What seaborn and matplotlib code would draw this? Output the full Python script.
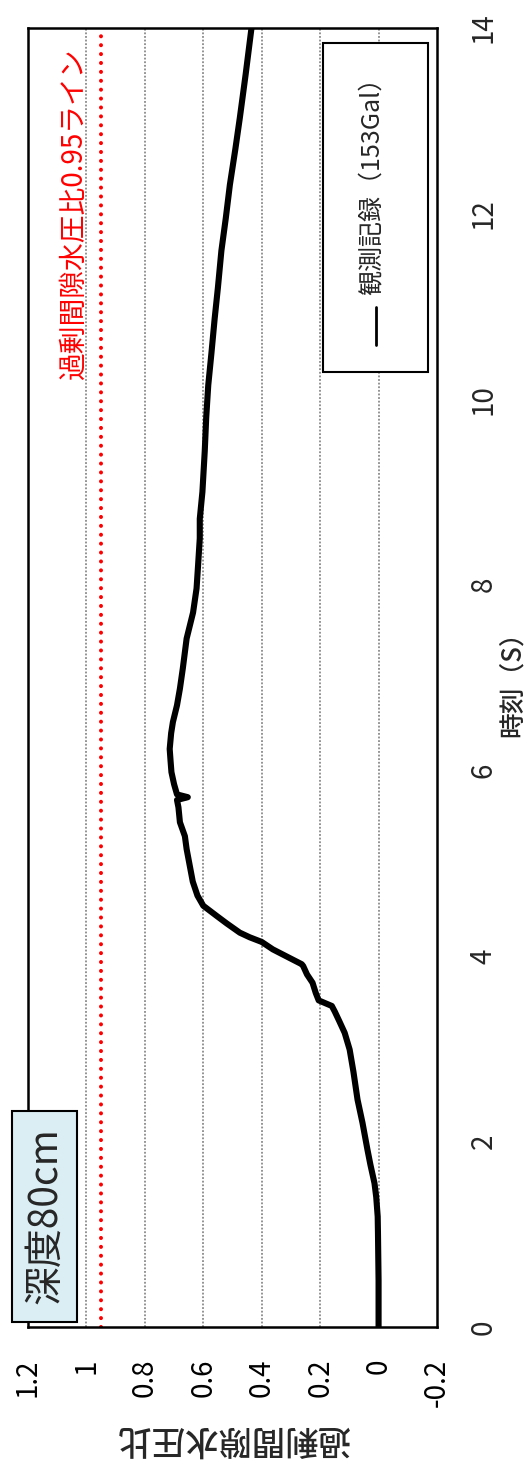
import matplotlib
matplotlib.use("Agg")
import matplotlib.pyplot as plt
import seaborn as sns
import pandas as pd
from matplotlib.patches import Rectangle
from matplotlib.lines import Line2D

# ---- data ----
time_s = [0.0, 0.5, 1.0, 1.19, 1.4, 1.55, 1.75, 1.91, 2.2, 2.45, 2.75, 2.99, 3.17,
          3.3, 3.4, 3.46, 3.52, 3.6, 3.71, 3.8, 3.89, 3.91, 3.96, 4.07, 4.15, 4.2,
          4.25, 4.35, 4.43, 4.54, 4.65, 4.8, 5.0, 5.15, 5.29, 5.44, 5.6, 5.68, 5.71,
          5.74, 5.85, 5.98, 6.1, 6.23, 6.4, 6.52, 6.7, 6.88, 7.1, 7.42, 7.7, 7.96,
          8.2, 8.5, 8.71, 9.0, 9.44, 9.8, 10.15, 10.5, 10.87, 11.2, 11.6, 11.95,
          12.31, 12.7, 13.03, 13.5, 14.0]
pressure_ratio = [0.0, 0.0, 0.002, 0.003, 0.008, 0.014, 0.028, 0.038, 0.055, 0.072, 0.086,
                  0.099, 0.116, 0.135, 0.15, 0.16, 0.205, 0.215, 0.226, 0.245, 0.258, 0.263,
                  0.294, 0.362, 0.40, 0.441, 0.475, 0.52, 0.554, 0.60, 0.62, 0.636, 0.648,
                  0.657, 0.663, 0.68, 0.685, 0.69, 0.653, 0.69, 0.70, 0.709, 0.712, 0.715,
                  0.71, 0.704, 0.69, 0.68, 0.67, 0.657, 0.635, 0.623, 0.618, 0.612, 0.612,
                  0.603, 0.595, 0.59, 0.583, 0.572, 0.561, 0.55, 0.538, 0.523, 0.509, 0.49,
                  0.475, 0.455, 0.435]
value_ticks = [1.2, 1.0, 0.8, 0.6, 0.4, 0.2, 0.0, -0.2]
value_tick_labels = ["1.2", "1", "0.8", "0.6", "0.4", "0.2", "0", "-0.2"]
grid_values = [1.0, 0.8, 0.6, 0.4, 0.2, 0.0]
time_ticks = [0, 2, 4, 6, 8, 10, 12, 14]
time_tick_labels = ["0", "2", "4", "6", "8", "10", "12", "14"]
threshold = 0.95

value_label = "過剰間隙水圧比"
time_label = "時刻（S）"
threshold_label = "過剰間隙水圧比0.95ライン"
series_label = "観測記録（153Gal）"
depth_label = "深度80cm"

sns.set_theme(style="white")
plt.rcParams["font.family"] = ["Noto Sans CJK JP", "DejaVu Sans"]

W, H = 527, 1461
fig = plt.figure(figsize=(W / 100, H / 100), dpi=100)
fig.patch.set_facecolor("white")

# axes in pixel geometry (rotated chart: value horizontal, time vertical)
L, R, T, B = 28, 437, 28, 1327
ax = fig.add_axes([L / W, 1 - B / H, (R - L) / W, (B - T) / H])

df = pd.DataFrame({"time": time_s, "ratio": pressure_ratio})
sns.lineplot(data=df, x="ratio", y="time", sort=False, estimator=None, orient="y",
             color="black", lw=4.4, ax=ax, zorder=3)

ax.set_xlim(1.2, -0.2)
ax.set_ylim(0, 14)

for v in grid_values:
    ax.axvline(v, color="#8a8a8a", lw=1.3, ls=(0, (1, 1)), zorder=1)

ax.axvline(threshold, color="red", lw=2.9, ls=(0, (0.01, 2.2)),
           dash_capstyle="round", zorder=2)
ax.text(1.043, 12.0, threshold_label, color="red", rotation=90, fontsize=20,
        ha="center", va="center", zorder=4)

ax.set_xticks(value_ticks)
ax.set_xticklabels(value_tick_labels, rotation=90, fontsize=20)
ax.tick_params(axis="x", length=0, pad=23, colors="black")

ax.yaxis.tick_right()
ax.set_yticks(time_ticks)
ax.set_yticklabels(time_tick_labels, rotation=90, fontsize=20, va="center")
ax.tick_params(axis="y", length=0, pad=23, labelright=True, labelleft=False)

ax.set_xlabel(value_label, fontsize=24, fontweight="medium", rotation=180, labelpad=10)
ax.yaxis.set_label_position("right")
ax.set_ylabel(time_label, fontsize=18.5, fontweight="medium", rotation=90, labelpad=0)

for s in ax.spines.values():
    s.set_color("black")
    s.set_linewidth(1.8)

# legend (drawn by hand because the whole chart is rotated)
def px_rect(x0, y0, x1, y1, **kw):
    return Rectangle((x0 / W, 1 - y1 / H), (x1 - x0) / W, (y1 - y0) / H,
                     transform=fig.transFigure, **kw)

fig.add_artist(px_rect(323, 43, 428, 372, fc="white", ec="black", lw=1.5, zorder=5))
fig.add_artist(Line2D([376 / W, 376 / W], [1 - 345 / H, 1 - 307 / H],
                      transform=fig.transFigure, color="black", lw=2, zorder=6))
fig.text(373 / W, 1 - 180 / H, series_label, rotation=90, fontsize=18,
         ha="center", va="center", zorder=6)

# depth label box
fig.add_artist(px_rect(12, 1111, 77, 1322, fc="#DAEEF3", ec="black", lw=1.5, zorder=5))
fig.text(45 / W, 1 - 1216 / H, depth_label, rotation=90, fontsize=28,
         ha="center", va="center", zorder=6)

fig.savefig("out.png", dpi=100)
